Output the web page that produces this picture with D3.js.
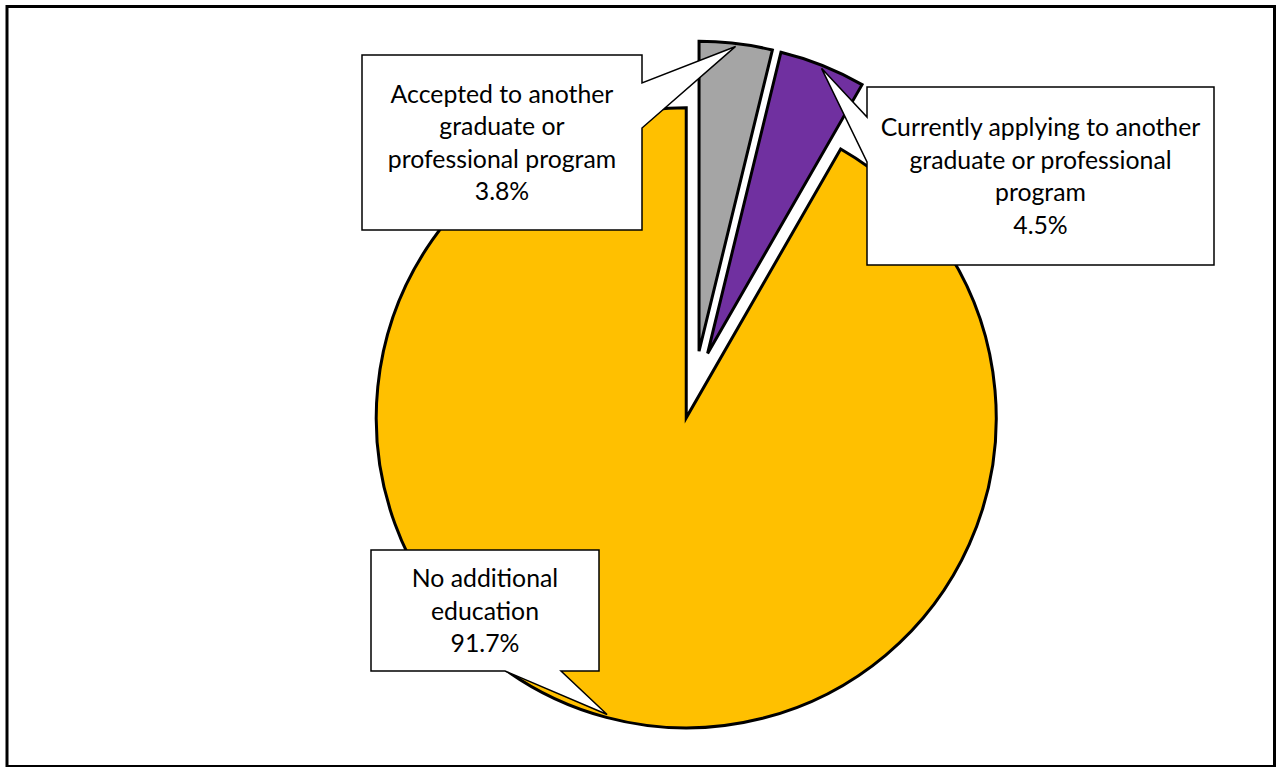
<!DOCTYPE html>
<html><head><meta charset="utf-8">
<script src="https://cdn.jsdelivr.net/npm/d3@7"></script>
<style>html,body{margin:0;padding:0;background:#fff;overflow:hidden;} svg{display:block;}</style>
</head><body>
<svg id="chart" width="1276" height="767"></svg>
<script>
// ---- data ----
const categories = [
  "Accepted to another graduate or professional program",
  "Currently applying to another graduate or professional program",
  "No additional education"
];
const values = [3.8, 4.5, 91.7];
const valueLabels = ["3.8%", "4.5%", "91.7%"];
const labelLines = [
  ["Accepted to another", "graduate or", "professional program"],
  ["Currently applying to another", "graduate or professional", "program"],
  ["No additional", "education"]
];
const colors = ["#A5A5A5", "#7030A0", "#FFC000"];

// ---- layout ----
const W = 1276, H = 767;
const cx = 695, cy = 385, R = 310, explode = 34;
const boxes = [
  {x: 362, y: 55, w: 280, h: 175, side: "right", b0: 83, b1: 128},
  {x: 867, y: 87, w: 347, h: 178, side: "left", b0: 117, b1: 162},
  {x: 371, y: 550, w: 228, h: 121, side: "bottom", b0: 505, b1: 561}
];
const fontSize = 24.8, lineH = 32.5, baseOff = 9;

const svg = d3.select("#chart");
svg.append("rect").attr("width", W).attr("height", H).attr("fill", "#fff");
svg.append("rect").attr("x", 7).attr("y", 6.5).attr("width", 1267.5).attr("height", 760)
  .attr("fill", "none").attr("stroke", "#000").attr("stroke-width", 3);

const data = categories.map((c, i) => ({cat: c, value: values[i], i}));
const pie = d3.pie().value(d => d.value).sort(null).startAngle(0).endAngle(2 * Math.PI);
const arcs = pie(data);
const arc = d3.arc().innerRadius(0).outerRadius(R);

const g = svg.append("g").attr("transform", `translate(${cx},${cy})`);
arcs.forEach(a => {
  const mid = (a.startAngle + a.endAngle) / 2;
  a.dx = explode * Math.sin(mid);
  a.dy = -explode * Math.cos(mid);
  a.tip = [cx + a.dx + (R - 3) * Math.sin(mid), cy + a.dy - (R - 3) * Math.cos(mid)];
});
g.selectAll("path.slice").data(arcs).join("path")
  .attr("class", "slice")
  .attr("transform", d => `translate(${d.dx},${d.dy})`)
  .attr("d", arc)
  .attr("fill", d => colors[d.data.i])
  .attr("stroke", "#000").attr("stroke-width", 3).attr("stroke-linejoin", "miter");

function calloutPath(b, tip) {
  const x0 = b.x, y0 = b.y, x1 = b.x + b.w, y1 = b.y + b.h;
  const p = d3.path();
  p.moveTo(x0, y0);
  p.lineTo(x1, y0);
  if (b.side === "right") { p.lineTo(x1, b.b0); p.lineTo(tip[0], tip[1]); p.lineTo(x1, b.b1); }
  p.lineTo(x1, y1);
  if (b.side === "bottom") { p.lineTo(b.b1, y1); p.lineTo(tip[0], tip[1]); p.lineTo(b.b0, y1); }
  p.lineTo(x0, y1);
  if (b.side === "left") { p.lineTo(x0, b.b1); p.lineTo(tip[0], tip[1]); p.lineTo(x0, b.b0); }
  p.closePath();
  return p.toString();
}

const lg = svg.append("g");
arcs.forEach((a, k) => {
  const b = boxes[k];
  lg.append("path").attr("d", calloutPath(b, a.tip))
    .attr("fill", "#fff").attr("stroke", "#000").attr("stroke-width", 1.5)
    .attr("stroke-linejoin", "miter");
  const lines = labelLines[k].concat([valueLabels[k]]);
  const n = lines.length;
  const first = b.y + b.h / 2 - (n - 1) * lineH / 2 + baseOff;
  const t = lg.append("text")
    .attr("font-family", "Lato, 'Open Sans', sans-serif")
    .attr("font-size", fontSize).attr("fill", "#000")
    .attr("text-anchor", "middle");
  lines.forEach((ln, j) => {
    t.append("tspan").attr("x", b.x + b.w / 2).attr("y", first + j * lineH).text(ln);
  });
});
</script>
</body></html>
